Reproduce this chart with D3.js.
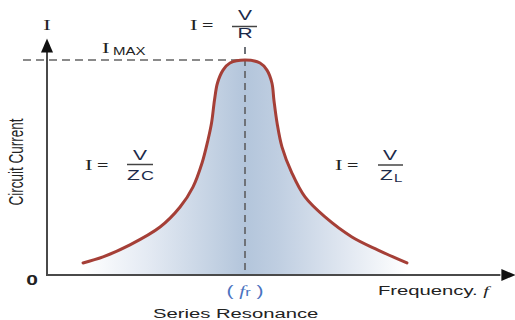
<!DOCTYPE html>
<html><head><meta charset="utf-8">
<script src="https://cdn.jsdelivr.net/npm/d3@7"></script>
<style>html,body{margin:0;padding:0;background:#fff;}svg{display:block;}</style>
</head><body>
<script>
// Relative frequency (f / fr) and relative current (I / Imax)
const freq = [0.182,0.283,0.419,0.571,0.672,0.737,0.783,0.813,0.831,0.846,0.861,0.889,0.924,1.0,
              1.076,1.111,1.136,1.146,1.162,1.187,1.237,1.303,1.404,1.540,1.672,1.818];
const current = [0.056,0.084,0.140,0.223,0.316,0.409,0.521,0.628,0.707,0.814,0.893,0.953,0.986,1.0,
                 0.986,0.953,0.893,0.814,0.707,0.595,0.474,0.363,0.270,0.177,0.116,0.056];
const resonanceF = 1.0;
const iMax = 1.0;
const xAxisMax = 2.31;
const yAxisMax = 1.1;

const W = 515, H = 320;
const svg = d3.select("body").append("svg").attr("width", W).attr("height", H);
const x = d3.scaleLinear().domain([0, 1]).range([47, 245]);
const y = d3.scaleLinear().domain([0, 1]).range([275, 60]);
const pts = freq.map((f, i) => [f, current[i]]);

const defs = svg.append("defs");
const grad = defs.append("linearGradient").attr("id", "fillGrad")
  .attr("gradientUnits", "userSpaceOnUse")
  .attr("x1", x(freq[0])).attr("x2", x(freq[freq.length - 1])).attr("y1", 0).attr("y2", 0);
[[0, "#ffffff"], [0.2, "#e4eaf3"], [0.4, "#c4d2e3"], [0.5, "#b3c5db"], [0.6, "#bfcee1"],
 [0.8, "#dfe6f0"], [1, "#ffffff"]]
  .forEach(([o, c]) => grad.append("stop").attr("offset", o).attr("stop-color", c));

const curve = d3.curveCatmullRom.alpha(0.5);

// area under curve
svg.append("path").datum(pts)
  .attr("d", d3.area().x(d => x(d[0])).y0(y(0)).y1(d => y(d[1])).curve(curve))
  .attr("fill", "url(#fillGrad)");

// dashed guides
svg.append("line").attr("x1", 23).attr("x2", x(resonanceF)).attr("y1", y(iMax)).attr("y2", y(iMax))
  .attr("stroke", "#8a8a8a").attr("stroke-width", 2).attr("stroke-dasharray", "8,5");
svg.append("line").attr("x1", x(resonanceF)).attr("x2", x(resonanceF)).attr("y1", 47).attr("y2", y(0))
  .attr("stroke", "#6e7278").attr("stroke-width", 2).attr("stroke-dasharray", "7,5");

// curve
svg.append("path").datum(pts)
  .attr("d", d3.line().x(d => x(d[0])).y(d => y(d[1])).curve(curve))
  .attr("fill", "none").attr("stroke", "#a53f37").attr("stroke-width", 3).attr("stroke-linecap", "round");

// axes
const ax = svg.append("g").attr("stroke", "#4a4a4a").attr("stroke-width", 2);
ax.append("line").attr("x1", x(0)).attr("x2", x(0)).attr("y1", y(yAxisMax) + 12).attr("y2", y(0) + 1);
ax.append("line").attr("x1", x(0) - 1).attr("x2", x(xAxisMax) - 4).attr("y1", y(0)).attr("y2", y(0));
svg.append("path").attr("d", `M${x(0)},${y(yAxisMax)} L${x(0) - 6},${y(yAxisMax) + 14} L${x(0) + 6},${y(yAxisMax) + 14}Z`).attr("fill", "#111");
svg.append("path").attr("d", `M${x(xAxisMax) + 11},${y(0)} L${x(xAxisMax) - 3},${y(0) - 6} L${x(xAxisMax) - 3},${y(0) + 6}Z`).attr("fill", "#111");

const SX = 1.5;
const sans = "'Liberation Sans', Arial, sans-serif";
const serif = "'Liberation Serif', 'Times New Roman', serif";
function txt(px, py, s, o = {}) {
  const t = svg.append("text")
    .attr("transform", `translate(${px},${py}) scale(${SX},1)` + (o.rot ? ` rotate(${o.rot})` : ""))
    .attr("font-family", o.family || sans).attr("font-size", o.size || 14)
    .attr("fill", o.color || "#222").attr("text-anchor", o.anchor || "start")
    .attr("font-weight", o.weight || "normal").attr("font-style", o.style || "normal")
    .text(s);
  return t;
}
function bar(x1, x2, yy) {
  svg.append("line").attr("x1", x1).attr("x2", x2).attr("y1", yy).attr("y2", yy)
    .attr("stroke", "#444").attr("stroke-width", 1.5);
}

// axis titles
txt(47, 30, "I", { family: serif, size: 15, anchor: "middle" });
txt(23, 162, "Circuit Current", { size: 13.5, anchor: "middle", rot: -90 });
txt(32, 285, "0", { size: 14, anchor: "middle", weight: "bold" });

// Imax
txt(102, 53, "I", { family: serif, size: 15 });
txt(113, 55, "MAX", { size: 10 });

// I = V/R
txt(190, 30, "I", { family: serif, size: 15 });
txt(202, 29, "=", { size: 13 });
txt(245, 20, "V", { size: 14, anchor: "middle", color: "#1c2a4a" });
bar(232, 257, 26.5);
txt(245, 38, "R", { size: 14, anchor: "middle", color: "#1c2a4a" });

// I = V/Zc
txt(85, 170, "I", { family: serif, size: 15 });
txt(97, 169, "=", { size: 13 });
txt(140, 160, "V", { size: 14, anchor: "middle", color: "#1c2a4a" });
bar(127, 153, 164.5);
txt(127, 180, "Z", { size: 14, color: "#1c2a4a" });
txt(141, 180, "C", { size: 12, color: "#1c2a4a" });

// I = V/ZL
txt(335, 170, "I", { family: serif, size: 15 });
txt(347, 169, "=", { size: 13 });
txt(390, 160, "V", { size: 14, anchor: "middle", color: "#1c2a4a" });
bar(378, 403, 165);
txt(380, 180, "Z", { size: 14, color: "#1c2a4a" });
txt(394, 182, "L", { size: 10, color: "#1c2a4a" });

// fr
const fr = svg.append("text").attr("transform", `translate(${x(resonanceF)},296) scale(${SX},1)`)
  .attr("font-family", sans).attr("font-size", 14).attr("fill", "#4a72c0").attr("text-anchor", "middle");
fr.append("tspan").text("( ");
fr.append("tspan").attr("font-family", serif).attr("font-style", "italic").text("f");
fr.append("tspan").attr("font-size", 11).text("r");
fr.append("tspan").text(" )");

txt(153, 318, "Series Resonance", { size: 13.5 });
const fq = txt(378, 295, "Frequency. ", { size: 13.5 });
fq.append("tspan").attr("font-family", serif).attr("font-style", "italic").text("f");
</script>
</body></html>
